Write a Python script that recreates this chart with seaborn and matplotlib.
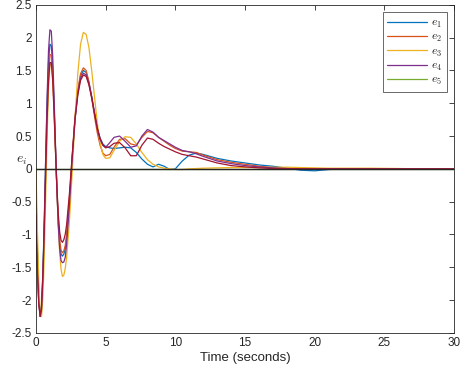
import numpy as np
import pandas as pd
import seaborn as sns
import matplotlib.pyplot as plt
from matplotlib.ticker import FormatStrFormatter
from matplotlib.lines import Line2D

sns.set_style("white")
plt.rcParams['font.family'] = ['Liberation Sans', 'DejaVu Sans']
plt.rcParams['axes.unicode_minus'] = False
plt.rcParams['mathtext.fontset'] = 'cm'

# tiempo (s)
t = [0, 0.1, 0.2, 0.3, 0.4, 0.5, 0.6, 0.7, 0.8, 0.9, 1.0, 1.1, 1.2, 1.3, 1.4, 1.5,
     1.6, 1.7, 1.8, 1.9, 2.0, 2.1, 2.2, 2.4, 2.6, 2.8, 3.0, 3.2, 3.4, 3.6, 3.8, 4.0,
     4.2, 4.4, 4.6, 4.8, 5.0, 5.3, 5.6, 6.0, 6.4, 6.8, 7.2, 7.6, 8.0, 8.4, 8.8, 9.2,
     9.6, 10.0, 10.5, 11.0, 11.5, 12.0, 13, 14, 15, 16, 17, 18, 19, 20, 21, 22,
     24, 26, 28, 30]

e1 = [-0.3, -1.2, -1.9, -2.2, -2.1, -1.55, -0.75, 0.15, 1.0, 1.62, 1.9, 1.88, 1.55, 0.98, 0.33, -0.3,
      -0.82, -1.15, -1.3, -1.33, -1.3, -1.22, -1.05, -0.5, 0.15, 0.75, 1.17, 1.42, 1.5, 1.47, 1.32, 1.1,
      0.85, 0.62, 0.47, 0.38, 0.34, 0.32, 0.31, 0.32, 0.33, 0.32, 0.25, 0.15, 0.07, 0.03, 0.07, 0.04,
      -0.01, 0.0, 0.12, 0.21, 0.24, 0.22, 0.16, 0.12, 0.09, 0.06, 0.04, 0.01, -0.02, -0.03, -0.01, 0.0,
      0.0, 0.0, 0.0, 0.0]

e2 = [-0.5, -1.4, -2.0, -2.25, -2.15, -1.7, -0.95, -0.05, 0.8, 1.42, 1.74, 1.74, 1.45, 0.92, 0.3, -0.28,
      -0.76, -1.08, -1.24, -1.28, -1.25, -1.17, -1.0, -0.45, 0.2, 0.8, 1.2, 1.45, 1.54, 1.5, 1.33, 1.08,
      0.8, 0.55, 0.36, 0.24, 0.2, 0.22, 0.33, 0.45, 0.46, 0.38, 0.36, 0.48, 0.57, 0.55, 0.48, 0.42,
      0.36, 0.31, 0.27, 0.26, 0.25, 0.21, 0.14, 0.1, 0.07, 0.04, 0.02, 0.01, 0.0, 0.0, 0.0, 0.0,
      0.0, 0.0, 0.0, 0.0]

e3 = [0.0, -0.9, -1.7, -2.2, -2.25, -1.95, -1.3, -0.4, 0.5, 1.22, 1.58, 1.6, 1.38, 0.9, 0.3, -0.32,
      -0.85, -1.27, -1.53, -1.64, -1.62, -1.52, -1.35, -0.8, -0.05, 0.75, 1.45, 1.9, 2.08, 2.05, 1.85, 1.5,
      1.1, 0.7, 0.4, 0.22, 0.16, 0.17, 0.28, 0.42, 0.49, 0.48, 0.38, 0.25, 0.14, 0.07, 0.03, 0.01,
      0.0, -0.01, -0.01, 0.0, 0.005, 0.01, 0.015, 0.02, 0.02, 0.02, 0.025, 0.025, 0.02, 0.015, 0.01, 0.01,
      0.01, 0.005, 0.0, 0.0]

e4 = [-0.9, -1.6, -2.05, -2.25, -2.15, -1.65, -0.8, 0.2, 1.1, 1.8, 2.12, 2.1, 1.72, 1.08, 0.38, -0.3,
      -0.85, -1.22, -1.4, -1.43, -1.42, -1.35, -1.15, -0.55, 0.15, 0.75, 1.15, 1.38, 1.46, 1.43, 1.3, 1.1,
      0.85, 0.62, 0.45, 0.36, 0.33, 0.4, 0.48, 0.5, 0.42, 0.33, 0.35, 0.5, 0.6, 0.56, 0.48, 0.43,
      0.38, 0.33, 0.28, 0.26, 0.23, 0.19, 0.12, 0.08, 0.05, 0.03, 0.015, 0.005, 0.0, -0.005, 0.0, 0.0,
      0.0, 0.0, 0.0, 0.0]

e5 = [0.0] * len(t)

# curva extra (sin leyenda)
e6 = [-0.7, -1.5, -2.05, -2.25, -2.1, -1.6, -0.88, -0.05, 0.75, 1.33, 1.62, 1.62, 1.35, 0.85, 0.27, -0.27,
      -0.68, -0.96, -1.09, -1.12, -1.08, -1.0, -0.85, -0.38, 0.2, 0.75, 1.12, 1.35, 1.43, 1.41, 1.28, 1.08,
      0.85, 0.62, 0.46, 0.36, 0.32, 0.34, 0.39, 0.4, 0.32, 0.2, 0.2, 0.36, 0.47, 0.45, 0.39, 0.34,
      0.3, 0.26, 0.22, 0.2, 0.18, 0.15, 0.09, 0.05, 0.03, 0.015, 0.005, 0.0, 0.0, 0.0, 0.0, 0.0,
      0.0, 0.0, 0.0, 0.0]

nombres = ["$e_1$", "$e_2$", "$e_3$", "$e_4$", "$e_5$"]
colores = ["#0072BD", "#D95319", "#EDB120", "#7E2F8E", "#77AC30"]

df = pd.DataFrame({"t": t * 5,
                   "e": e1 + e2 + e3 + e4 + e5,
                   "serie": [n for n in nombres for _ in t]})

fig = plt.figure(figsize=(4.61, 3.74), dpi=100)
ax = fig.add_axes([0.078, 0.110, 0.907, 0.877])

sns.lineplot(x=t, y=e5, color=colores[4], lw=0.9, ax=ax)
sns.lineplot(data=df[df["serie"] != "$e_5$"], x="t", y="e", hue="serie",
             palette=dict(zip(nombres, colores)), lw=0.9, legend=False, ax=ax)
sns.lineplot(x=t, y=e6, color="#A2142F", lw=0.9, ax=ax)
sns.lineplot(x=t, y=[0.0] * len(t), color="#262626", lw=1.0, ax=ax)

ax.set_xlim(0, 30)
ax.set_ylim(-2.5, 2.5)
ax.set_xticks(range(0, 31, 5))
ax.set_yticks(np.arange(-2.5, 2.51, 0.5))
ax.yaxis.set_major_formatter(FormatStrFormatter('%g'))
ax.tick_params(direction="in", length=3.5, width=0.6, top=True, right=True,
               labelsize=8.5, colors="#262626", pad=3)
for s in ax.spines.values():
    s.set_color("#262626")
    s.set_linewidth(0.6)

ax.set_xlabel("Time (seconds)", fontsize=9.5, color="#262626", labelpad=2)
ax.set_ylabel("")
fig.text(22 / 461, 1 - 160 / 374, "$e_i$", fontsize=10, color="#262626",
         ha="center", va="center")

handles = [Line2D([0], [0], color=c, lw=0.9) for c in colores]
leg = ax.legend(handles, nombres, loc="upper right", fontsize=8.5, frameon=True,
                fancybox=False, edgecolor="#262626", handlelength=3.4,
                borderaxespad=0.6, labelspacing=0.12, handletextpad=0.3,
                borderpad=0.4)
leg.get_frame().set_linewidth(0.6)

plt.savefig("out.png", dpi=100)
